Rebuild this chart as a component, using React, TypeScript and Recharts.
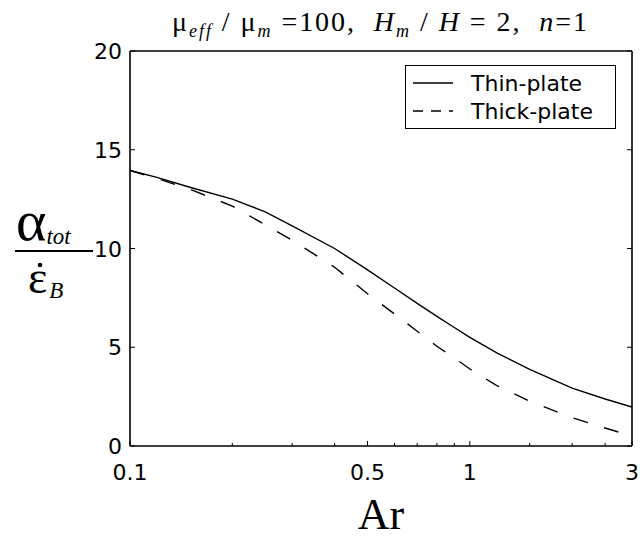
import React from 'react';
import { LineChart, Line, XAxis, YAxis, Legend } from 'recharts';

// aspect ratio Ar (log axis)
const arValues = [0.1, 0.12, 0.15, 0.2, 0.25, 0.3, 0.4, 0.5, 0.6, 0.7, 0.8, 0.9, 1, 1.2, 1.5, 2, 2.5, 3];
const thinPlate = [13.95, 13.6, 13.1, 12.5, 11.85, 11.15, 10.0, 8.92, 8.0, 7.22, 6.56, 6.0, 5.5, 4.72, 3.88, 2.93, 2.38, 1.97];
const thickPlate = [13.95, 13.55, 13.0, 12.15, 11.2, 10.42, 9.05, 7.71, 6.69, 5.81, 5.05, 4.46, 3.9, 3.06, 2.27, 1.43, 0.91, 0.5];

const xMajorTicks = [0.1, 0.5, 1, 3];
const xMinorTicks = [0.2, 0.3, 0.4, 0.6, 0.7, 0.8, 0.9, 1.5, 2, 2.5];
const yTicks = [0, 5, 10, 15, 20];

const seriesNames = ['Thin-plate', 'Thick-plate'];

const data = arValues.map((ar, i) => ({ ar, thin: thinPlate[i], thick: thickPlate[i] }));
const xTicks = [...xMajorTicks, ...xMinorTicks].sort((a, b) => a - b);

const tickFont = { fontFamily: '"DejaVu Sans", sans-serif', fontSize: 22, fill: '#000' };
const serif = '"Liberation Serif", "Times New Roman", serif';
const axisStyle = { stroke: '#000', strokeWidth: 1.6 };

function BottomTick({ x, y, payload }: any) {
  const major = xMajorTicks.includes(payload.value);
  return (
    <g>
      <line x1={x} x2={x} y1={y} y2={y - (major ? 5 : 3)} stroke="#000" strokeWidth={1} />
      {major && (
        <text x={x} y={y + 34} textAnchor="middle" {...tickFont}>
          {payload.value}
        </text>
      )}
    </g>
  );
}

function TopTick({ x, y, payload }: any) {
  const major = xMajorTicks.includes(payload.value);
  return <line x1={x} x2={x} y1={y} y2={y + (major ? 5 : 3)} stroke="#000" strokeWidth={1} />;
}

function LeftTick({ x, y, payload }: any) {
  return (
    <g>
      <line x1={x} x2={x + 5} y1={y} y2={y} stroke="#000" strokeWidth={1} />
      <text x={x - 8} y={y + 8} textAnchor="end" {...tickFont}>
        {payload.value}
      </text>
    </g>
  );
}

function RightTick({ x, y }: any) {
  return <line x1={x} x2={x - 5} y1={y} y2={y} stroke="#000" strokeWidth={1} />;
}

function LegendBox() {
  return (
    <svg width={211} height={64} style={{ display: 'block' }}>
      <rect x={0.5} y={0.5} width={210} height={63} fill="#fff" stroke="#000" strokeWidth={1} />
      <line x1={8} x2={48} y1={18} y2={18} stroke="#000" strokeWidth={1.3} />
      <line x1={8} x2={48} y1={46} y2={46} stroke="#000" strokeWidth={1.3} strokeDasharray="10 8" />
      <text x={66} y={26} {...tickFont}>{seriesNames[0]}</text>
      <text x={66} y={54} {...tickFont}>{seriesNames[1]}</text>
    </svg>
  );
}

export default function App() {
  const sub = { fontSize: 18, fontStyle: 'italic' as const };
  return (
    <div style={{ position: 'absolute', left: 0, top: 0, width: 641, height: 539, background: '#fff' }}>
      <LineChart
        width={641}
        height={539}
        data={data}
        margin={{ top: 41, right: 4, bottom: 53, left: 70 }}
      >
        <XAxis
          xAxisId="bottom"
          dataKey="ar"
          type="number"
          scale="log"
          domain={[0.1, 3]}
          allowDataOverflow
          ticks={xTicks}
          interval={0}
          height={40}
          tickSize={0}
          tickMargin={0}
          tick={<BottomTick />}
          axisLine={axisStyle}
        />
        <XAxis
          xAxisId="top"
          orientation="top"
          type="number"
          scale="log"
          domain={[0.1, 3]}
          allowDataOverflow
          ticks={xTicks}
          interval={0}
          height={10}
          tickSize={0}
          tickMargin={0}
          tick={<TopTick />}
          axisLine={axisStyle}
        />
        <YAxis
          yAxisId="left"
          type="number"
          domain={[0, 20]}
          allowDataOverflow
          ticks={yTicks}
          interval={0}
          width={60}
          tickSize={0}
          tickMargin={0}
          tick={<LeftTick />}
          axisLine={axisStyle}
        />
        <YAxis
          yAxisId="right"
          orientation="right"
          type="number"
          domain={[0, 20]}
          allowDataOverflow
          ticks={yTicks}
          interval={0}
          width={5}
          tickSize={0}
          tickMargin={0}
          tick={<RightTick />}
          axisLine={axisStyle}
        />
        <Legend
          layout="horizontal"
          verticalAlign="middle"
          align="center"
          wrapperStyle={{ left: 405, top: 65, width: 211, height: 64 }}
          content={() => <LegendBox />}
        />
        <Line
          xAxisId="bottom"
          yAxisId="left"
          type="linear"
          dataKey="thin"
          name={seriesNames[0]}
          stroke="#000"
          strokeWidth={1.4}
          dot={false}
          isAnimationActive={false}
        />
        <Line
          xAxisId="bottom"
          yAxisId="left"
          type="linear"
          dataKey="thick"
          name={seriesNames[1]}
          stroke="#000"
          strokeWidth={1.4}
          strokeDasharray="15 17"
          dot={false}
          isAnimationActive={false}
        />
      </LineChart>
      <svg
        width={641}
        height={539}
        style={{ position: 'absolute', left: 0, top: 0, pointerEvents: 'none' }}
      >
        <text
          x={172}
          y={31}
          fontFamily={serif}
          fontSize={28}
          fill="#000"
          textLength={415}
          lengthAdjust="spacing"
          style={{ whiteSpace: 'pre' }}
        >
          <tspan>μ</tspan>
          <tspan dy={6} {...sub}>eff</tspan>
          <tspan dy={-6}> / μ</tspan>
          <tspan dy={6} {...sub}>m</tspan>
          <tspan dy={-6}> =100,  </tspan>
          <tspan fontStyle="italic">H</tspan>
          <tspan dy={6} {...sub}>m</tspan>
          <tspan dy={-6}> / </tspan>
          <tspan fontStyle="italic">H</tspan>
          <tspan> = 2,  </tspan>
          <tspan fontStyle="italic">n</tspan>
          <tspan>=1</tspan>
        </text>
        {/* y label: alpha_tot over epsilon-dot_B */}
        <text fontFamily={serif} fill="#000">
          <tspan x={16} y={240} fontSize={58}>α</tspan>
          <tspan dx={0} dy={4} fontSize={23} fontStyle="italic">tot</tspan>
        </text>
        <line x1={15} x2={93} y1={251} y2={251} stroke="#000" strokeWidth={2} />
        <text fontFamily={serif} fill="#000">
          <tspan x={28} y={293} fontSize={46}>ε</tspan>
          <tspan dx={2} dy={5} fontSize={23} fontStyle="italic">B</tspan>
        </text>
        <circle cx={40} cy={265} r={2.3} fill="#000" />
        <text x={381} y={529} textAnchor="middle" fontFamily={serif} fontSize={44} fill="#000">
          Ar
        </text>
      </svg>
    </div>
  );
}
